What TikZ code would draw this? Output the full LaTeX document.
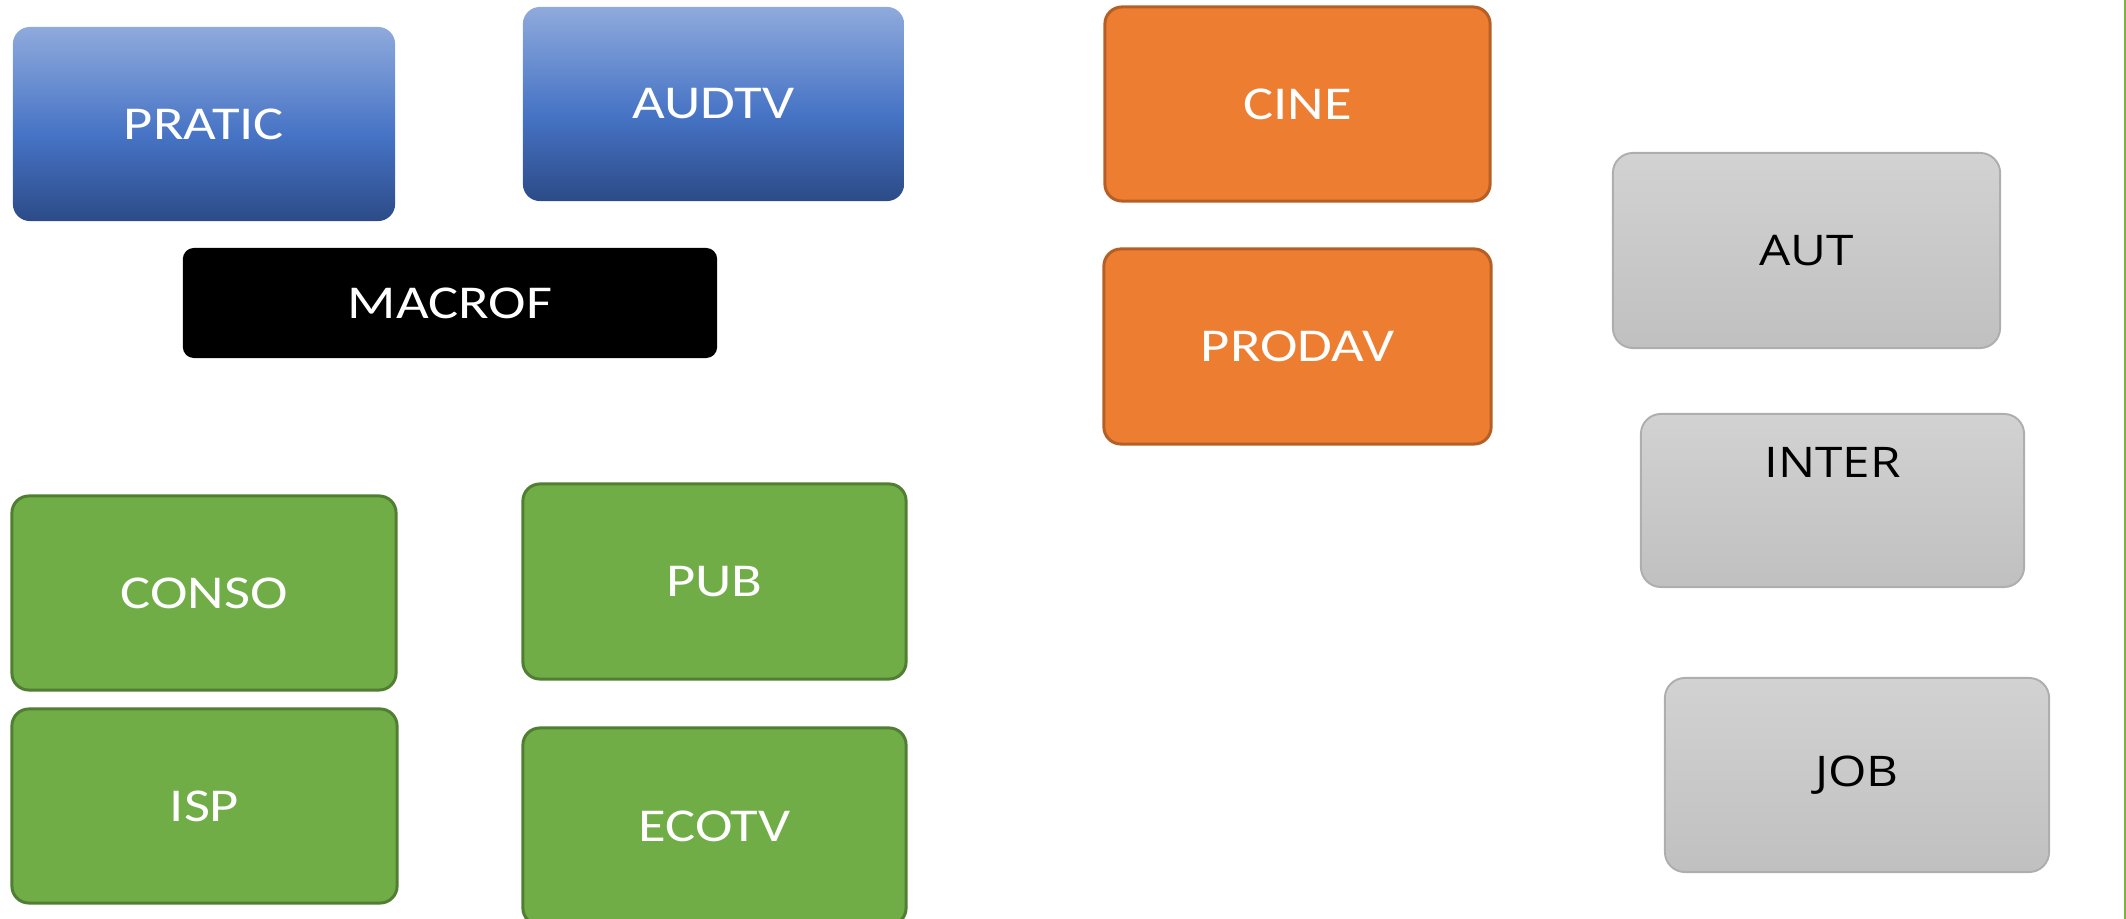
\documentclass[tikz,border=0pt]{standalone}
\usepackage{fontspec}
\newfontfamily\tilefont[FakeStretch=1.2]{Carlito}
\newfontfamily\greyfont[FakeStretch=1.17]{Open Sans}
\definecolor{blueTop}{HTML}{8FAADC}
\definecolor{blueMid}{HTML}{4673C5}
\definecolor{blueBot}{HTML}{2C4B87}
\definecolor{orangeFill}{HTML}{ED7D31}
\definecolor{orangeEdge}{HTML}{B55F26}
\definecolor{greenFill}{HTML}{70AD47}
\definecolor{greenEdge}{HTML}{507E32}
\definecolor{greyTop}{HTML}{D2D2D2}
\definecolor{greyBot}{HTML}{C0C0C0}
\definecolor{greyEdge}{HTML}{AEAEAE}
\definecolor{ruleGreen}{HTML}{7AB33A}
% three-stop vertical fill for the blue tiles (path spans 25bp..75bp)
\pgfdeclareverticalshading{bluetilefill}{100bp}{%
  color(0bp)=(blueBot); color(25bp)=(blueBot); color(47bp)=(blueMid);
  color(75bp)=(blueTop); color(100bp)=(blueTop)}
\begin{document}
\begin{tikzpicture}[x=0.01cm,y=-0.01cm,
  tile/.style={rectangle, rounded corners=0.17cm, inner sep=0pt,
    minimum width=3.84cm, minimum height=1.94cm,
    font=\tilefont\fontsize{13.4}{16}\selectfont, text=white},
  bluetile/.style={tile, shading=bluetilefill},
  blacktile/.style={tile, fill=black, rounded corners=0.11cm,
    minimum width=5.34cm, minimum height=1.10cm},
  orangetile/.style={tile, fill=orangeFill, draw=orangeEdge, line width=0.85pt},
  greentile/.style={tile, fill=greenFill, draw=greenEdge, line width=0.85pt},
  greytile/.style={tile, top color=greyTop, bottom color=greyBot, draw=greyEdge,
    line width=0.55pt, rounded corners=0.2cm,
    font=\greyfont\fontsize{12}{14}\selectfont, text=black},
  greytext/.style={inner sep=0pt, font=\greyfont\fontsize{12}{14}\selectfont, text=black},
  edgerule/.style={draw=ruleGreen, line width=0.6pt}
]
\path[use as bounding box] (0,0) rectangle (2126,919);

% blue group
\node[bluetile, minimum width=3.82cm] (pratic) at (204,124) {PRATIC};
\node[bluetile, minimum width=3.81cm] (audtv) at (713.5,104) {AUDTV};
% black bar
\node[blacktile] (macrof) at (450,303) {MACROF};

% orange group
\node[orangetile, minimum width=3.85cm] (cine) at (1297.5,104) {CINE};
\node[orangetile, minimum width=3.87cm, minimum height=1.95cm] (prodav) at (1297.5,346.5) {PRODAV};

% grey group
\node[greytile, minimum width=3.87cm, minimum height=1.95cm] (aut) at (1806.5,250.5) {AUT};
\node[greytile, minimum width=3.83cm, minimum height=1.73cm] (inter) at (1832.5,500.5) {};
\node[greytext] (intertext) at (inter.center) [yshift=0.38cm] {INTER};
\node[greytile, minimum width=3.84cm] (job) at (1857,775) {JOB};

% green group
\node[greentile] (conso) at (204,593) {CONSO};
\node[greentile, minimum width=3.83cm, minimum height=1.95cm] (pub) at (714.5,581.5) {PUB};
\node[greentile, minimum width=3.85cm] (isp) at (204.5,806) {ISP};
\node[greentile, minimum width=3.83cm, minimum height=1.97cm] (ecotv) at (714.5,826.5) {ECOTV};

% thin green rule along the right edge
\coordinate (ruletop) at (2125,0);
\coordinate (rulebot) at (2125,919);
\draw[edgerule] (ruletop) -- (rulebot);
\end{tikzpicture}
\end{document}
